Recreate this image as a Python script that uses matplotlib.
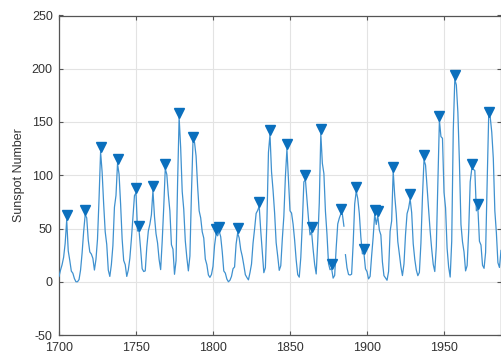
import numpy as np
import matplotlib
matplotlib.use("Agg")
import matplotlib.pyplot as plt
from matplotlib.transforms import offset_copy

plt.rcParams['font.family'] = ['Liberation Sans', 'DejaVu Sans']
plt.rcParams['axes.unicode_minus'] = False

# Yearly mean sunspot numbers, 1700-1987
years = np.arange(1700, 1988)
spots = [
    5.0, 11.0, 16.0, 23.0, 36.0, 58.0, 29.0, 20.0, 10.0, 8.0,
    3.0, 0.0, 0.0, 2.0, 11.0, 27.0, 47.0, 63.0, 60.0, 39.0,
    28.0, 26.0, 22.0, 11.0, 21.0, 40.0, 78.0, 122.0, 103.0, 73.0,
    47.0, 35.0, 11.0, 5.0, 16.0, 34.0, 70.0, 81.0, 111.0, 101.0,
    73.0, 40.0, 20.0, 16.0, 5.0, 11.0, 22.0, 40.0, 60.0, 80.9,
    83.4, 47.7, 47.8, 30.7, 12.2, 9.6, 10.2, 32.4, 47.6, 54.0,
    62.9, 85.9, 61.2, 45.1, 36.4, 20.9, 11.4, 37.8, 69.8, 106.1,
    100.8, 81.6, 66.5, 34.8, 30.6, 7.0, 19.8, 92.5, 154.4, 125.9,
    84.8, 68.1, 38.5, 22.8, 10.2, 24.1, 82.9, 132.0, 130.9, 118.1,
    89.9, 66.6, 60.0, 46.9, 41.0, 21.3, 16.0, 6.4, 4.1, 6.8,
    14.5, 34.0, 45.0, 43.1, 47.5, 42.2, 28.1, 10.1, 8.1, 2.5,
    0.0, 1.4, 5.0, 12.2, 13.9, 35.4, 45.8, 41.1, 30.1, 23.9,
    15.6, 6.6, 4.0, 1.8, 8.5, 16.6, 36.3, 49.6, 64.2, 67.0,
    70.9, 47.8, 27.5, 8.5, 13.2, 56.9, 121.5, 138.3, 103.2, 85.7,
    64.6, 36.7, 24.2, 10.7, 15.0, 40.1, 61.5, 98.5, 124.7, 96.3,
    66.6, 64.5, 54.1, 39.0, 20.6, 6.7, 4.3, 22.7, 54.8, 93.8,
    95.8, 77.2, 59.1, 44.0, 47.0, 30.5, 16.3, 7.3, 37.6, 74.0,
    139.0, 111.2, 101.6, 66.2, 44.7, 17.0, 11.3, 12.4, 3.4, 6.0,
    32.3, 54.3, 59.7, 63.7, 63.5, 52.2, 25.4, 13.1, 6.8, 6.3,
    7.1, 35.6, 73.0, 85.1, 78.0, 64.0, 41.8, 26.2, 26.7, 12.1,
    9.5, 2.7, 5.0, 24.4, 42.0, 63.5, 53.8, 62.0, 48.5, 43.9,
    18.6, 5.7, 3.6, 1.4, 9.6, 47.4, 57.1, 103.9, 80.6, 63.6,
    37.6, 26.1, 14.2, 5.8, 16.7, 44.3, 63.9, 69.0, 77.8, 64.9,
    35.7, 21.2, 11.1, 5.7, 8.7, 36.1, 79.7, 114.4, 109.6, 88.8,
    67.8, 47.5, 30.6, 16.3, 9.6, 33.2, 92.6, 151.6, 136.3, 134.7,
    83.9, 69.4, 31.5, 13.9, 4.4, 38.0, 141.7, 190.2, 184.8, 159.0,
    112.3, 53.9, 37.5, 27.9, 10.2, 15.1, 47.0, 93.8, 105.9, 105.5,
    104.5, 66.6, 68.9, 38.0, 34.5, 15.5, 12.6, 27.5, 92.5, 155.4,
    154.6, 140.4, 115.9, 66.6, 45.9, 17.9, 13.4, 29.4,
]
spots = np.array(spots)

# The trace is broken between these two years
break_after = 1885

x_ticks = [1700, 1750, 1800, 1850, 1900, 1950]
y_ticks = [-50, 0, 50, 100, 150, 200, 250]

# Local maxima (strictly greater than both neighbours)
is_peak = np.r_[False, (spots[1:-1] > spots[:-2]) & (spots[1:-1] > spots[2:]), False]
pk_years = years[is_peak]
pk_vals = spots[is_peak]

line_color = '#3f91cf'
marker_color = '#0a6fbd'

fig = plt.figure(figsize=(5.02, 3.54), dpi=100)
ax = fig.add_axes([59 / 502, 1 - 335 / 354, (501 - 59) / 502, (335 - 15.5) / 354])

first = years <= break_after
ax.plot(years[first], spots[first], color=line_color, lw=0.9, zorder=3)
ax.plot(years[~first], spots[~first], color=line_color, lw=0.9, zorder=3)

trans = offset_copy(ax.transData, fig=fig, x=0, y=3.3, units='points')
ax.plot(pk_years, pk_vals, 'v', color=marker_color, mfc=marker_color,
        mec=marker_color, ms=6.5, transform=trans, zorder=4, clip_on=False)

ax.set_xlim(1700, 1987)
ax.set_ylim(-50, 250)
ax.set_xticks(x_ticks)
ax.set_yticks(y_ticks)
ax.grid(True, color='#e3e3e3', lw=0.8)
ax.set_axisbelow(True)

ax.tick_params(direction='in', length=3, width=0.8, colors='#555555',
               labelsize=9, labelcolor='#333333', top=True, right=True)
ax.tick_params(axis='x', pad=5)
ax.tick_params(axis='y', pad=4.5)
for s in ax.spines.values():
    s.set_color('#555555')
    s.set_linewidth(0.9)

ax.set_ylabel('Sunspot Number', fontsize=9, color='#333333', labelpad=5)

fig.savefig('out.png', dpi=100)
